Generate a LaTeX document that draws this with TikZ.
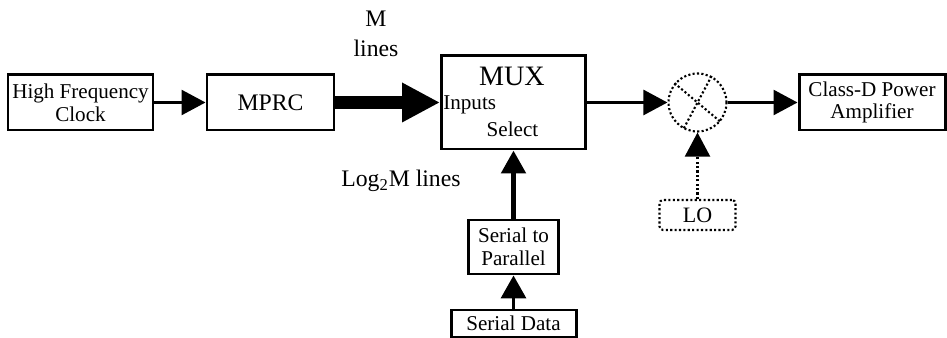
\documentclass[tikz,border=0pt]{standalone}
\usepackage{fontspec}
\setmainfont{Liberation Serif}
\usetikzlibrary{arrows.meta}
\usetikzlibrary{positioning}

\begin{document}
\begin{tikzpicture}
  \tikzset{
    block/.style={draw,line width=1.7pt,inner sep=0pt,align=center,font=\fontsize{12}{13}\selectfont},
    txt/.style={inner sep=0pt,font=\fontsize{12}{13}\selectfont},
    lbl/.style={inner sep=0pt,align=center,font=\fontsize{13.5}{17}\selectfont},
    dots/.style={line width=1.2pt,dash pattern=on 1.2pt off 1.3pt},
    thin arrow/.style={line width=1.5pt,-{Triangle[length=0.48cm,width=0.5cm]}},
  }
  \useasboundingbox (0,0) rectangle (18.94,6.76);
  %BLOCKS
  \node[block,minimum width=2.9cm,minimum height=1.1cm] (hfc) at (1.61,4.71) {High Frequency\\Clock};
  \node[block,minimum width=2.54cm,minimum height=1.1cm,font=\fontsize{13.5}{15}\selectfont] (mprc) at (5.41,4.71) {MPRC};
  \node[block,minimum width=2.88cm,minimum height=1.86cm] (mux) at (10.27,4.71) {};
  \node[block,minimum width=2.92cm,minimum height=1.1cm] (cls) at (17.44,4.71) {Class-D Power\\Amplifier};
  \node[block,minimum width=1.8cm,minimum height=1.08cm] (s2p) at (10.27,1.82) {Serial to\\Parallel};
  \node[block,minimum width=2.5cm,minimum height=0.54cm] (sd) at (10.27,0.29) {Serial Data};
  %MUX TEXTS
  \node[txt,font=\fontsize{16}{18}\selectfont] (muxname) at (10.24,5.24) {MUX};
  \node[txt,anchor=west] (inputs) at (8.86,4.67) {Inputs};
  \node[txt] (select) at (10.25,4.17) {Select};
  %MIXER
  \node[circle,draw,dots,minimum size=1.16cm,inner sep=0pt] (mix) at (13.95,4.71) {};
  \draw[dots] (mix.140) -- (mix.-40);
  \draw[dots] (mix.62) -- (mix.242);
  %LO
  \node[draw,dots,rounded corners=2pt,minimum width=1.52cm,minimum height=0.6cm,inner sep=0pt,font=\fontsize{12.5}{14}\selectfont] (lo) at (13.95,2.46) {LO};
  %LABELS
  \node[lbl] (mlines) at (7.52,6.08) {M\\lines};
  \node[lbl] (loglines) at (8.02,3.14) {Log\textsubscript{2}M lines};
  %ARROWS
  \draw[thin arrow] (hfc) -- (mprc);
  \draw[line width=7.4pt,-{Triangle[length=0.76cm,width=0.74cm]}] (mprc) -- (mux);
  \draw[thin arrow] (mux) -- (mix);
  \draw[thin arrow] (mix) -- (cls);
  \draw[thin arrow,dots] (lo) -- (mix);
  \draw[line width=3pt,-{Triangle[length=0.46cm,width=0.48cm]}] (s2p) -- (mux);
  \draw[line width=2pt,-{Triangle[length=0.46cm,width=0.5cm]}] (sd) -- (s2p);
\end{tikzpicture}
\end{document}
